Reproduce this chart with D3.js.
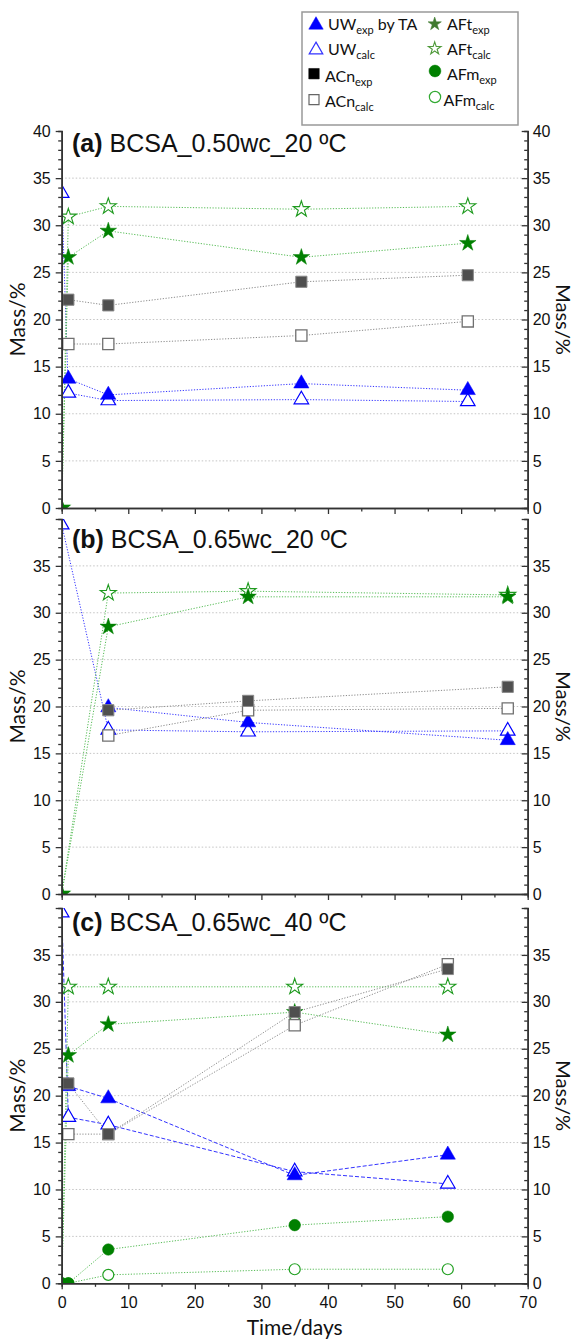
<!DOCTYPE html>
<html>
<head>
<meta charset="utf-8">
<style>
html, body { margin: 0; padding: 0; background: #fff; }
svg { display: block; }
.tick text { font-family: "Liberation Sans", Arial, sans-serif; font-size: 16px; fill: #111; }
.axis path, .axis line { stroke: #333; }
</style>
</head>
<body>
<div id="chart"></div>
<script src="https://cdn.jsdelivr.net/npm/d3@7"></script>
<script>
// panel (a) BCSA_0.50wc_20 ºC
var daysA    = [0, 1, 7, 36, 61];
var uwExpA   = [null, 13.7, 12.0, 13.2, 12.5];
var uwCalcA  = [33.4, 12.2, 11.4, 11.5, 11.3];
var acnExpA  = [null, 22.1, 21.5, 24.0, 24.7];
var acnCalcA = [null, 17.4, 17.4, 18.3, 19.8];
var aftExpA  = [0, 26.6, 29.4, 26.6, 28.1];
var aftCalcA = [0, 30.9, 32.0, 31.7, 32.0];

// panel (b) BCSA_0.65wc_20 ºC
var daysB    = [0, 7, 28, 67];
var uwExpB   = [null, 19.9, 18.3, 16.4];
var uwCalcB  = [39.4, 17.5, 17.3, 17.4];
var acnExpB  = [null, 19.6, 20.6, 22.1];
var acnCalcB = [null, 16.9, 19.6, 19.8];
var aftExpB  = [0, 28.5, 31.7, 31.7];
var aftCalcB = [0, 32.1, 32.3, 31.9];

// panel (c) BCSA_0.65wc_40 ºC
var daysC    = [0, 1, 7, 35, 58];
var uwExpC   = [null, 21.0, 19.7, 11.5, 13.7];
var uwCalcC  = [39.5, 17.7, 16.9, 11.9, 10.6];
var acnExpC  = [null, 21.3, 15.9, 28.9, 33.5];
var acnCalcC = [null, 15.9, 15.9, 27.5, 34.0];
var aftExpC  = [0, 24.3, 27.6, 28.9, 26.5];
var aftCalcC = [0, 31.6, 31.6, 31.6, 31.6];
var afmExpC  = [0, 0, 3.6, 6.2, 7.1];
var afmCalcC = [0, 0, 0.9, 1.5, 1.5];

var yMajorTicks = [0, 5, 10, 15, 20, 25, 30, 35, 40];
var xMajorTicks = [0, 10, 20, 30, 40, 50, 60, 70];
var gridValues  = [5, 10, 15, 20, 25, 30, 35];

var W = 580, H = 1339;
var svg = d3.select("#chart").append("svg").attr("width", W).attr("height", H);

var x = d3.scaleLinear().domain([0, 70]).range([61.7, 527.7]);

var styles = {
    uwCalc:  {sym: d3.symbolTriangle, size: 92, fill: "#fff", stroke: "#0000ff", sw: 1.2, line: "#3333ff"},
    uwExp:   {sym: d3.symbolTriangle, size: 100, fill: "#0000ff", stroke: "#0000ff", sw: 0.5, line: "#3333ff"},
    aftCalc: {sym: d3.symbolStar, size: 80, fill: "#fff", stroke: "#1f9a1f", sw: 1.1, line: "#55bb55"},
    aftExp:  {sym: d3.symbolStar, size: 85, fill: "#008000", stroke: "#008000", sw: 0.5, line: "#55bb55"},
    afmCalc: {sym: d3.symbolCircle, size: 95, fill: "#fff", stroke: "#22a022", sw: 1.2, line: "#55bb55"},
    afmExp:  {sym: d3.symbolCircle, size: 105, fill: "#008000", stroke: "#008000", sw: 0.5, line: "#55bb55"},
    acnCalc: {sym: d3.symbolSquare, size: 125, fill: "#fff", stroke: "#707070", sw: 1.3, line: "#8a8a8a"},
    acnExp:  {sym: d3.symbolSquare, size: 125, fill: "#4f4f4f", stroke: "#8a8a8a", sw: 1, line: "#8a8a8a"}
};
var drawOrder = ["uwCalc", "uwExp", "aftCalc", "aftExp", "afmCalc", "afmExp", "acnCalc", "acnExp"];

var panels = [
    {id: "a", label: "(a)", name: " BCSA_0.50wc_20 ºC", top: 131, bottom: 508, titleY: 152,
     days: daysA, showTop: true, dashUW: false,
     series: {uwCalc: uwCalcA, uwExp: uwExpA, aftCalc: aftCalcA, aftExp: aftExpA, acnCalc: acnCalcA, acnExp: acnExpA}},
    {id: "b", label: "(b)", name: " BCSA_0.65wc_20 ºC", top: 519, bottom: 894, titleY: 548,
     days: daysB, showTop: false, dashUW: false,
     series: {uwCalc: uwCalcB, uwExp: uwExpB, aftCalc: aftCalcB, aftExp: aftExpB, acnCalc: acnCalcB, acnExp: acnExpB}},
    {id: "c", label: "(c)", name: " BCSA_0.65wc_40 ºC", top: 908, bottom: 1283.3, titleY: 931,
     days: daysC, showTop: false, dashUW: true, xLabels: true,
     series: {uwCalc: uwCalcC, uwExp: uwExpC, aftCalc: aftCalcC, aftExp: aftExpC, afmCalc: afmCalcC, afmExp: afmExpC, acnCalc: acnCalcC, acnExp: acnExpC}}
];

panels.forEach(function(p) {
    var y = d3.scaleLinear().domain([0, 40]).range([p.bottom, p.top]);
    var g = svg.append("g");

    g.append("clipPath").attr("id", "clip" + p.id)
        .append("rect")
        .attr("x", x(0)).attr("y", p.top)
        .attr("width", x(70) - x(0)).attr("height", p.bottom - p.top);

    // grid
    g.append("g").selectAll("line").data(gridValues).join("line")
        .attr("x1", x(0)).attr("x2", x(70))
        .attr("y1", function(d) { return y(d); }).attr("y2", function(d) { return y(d); })
        .attr("stroke", "#c4c4c4").attr("stroke-width", 1).attr("stroke-dasharray", "1.5,2");

    var plot = g.append("g").attr("clip-path", "url(#clip" + p.id + ")");

    var line = d3.line()
        .defined(function(d) { return d[1] != null; })
        .x(function(d) { return x(d[0]); })
        .y(function(d) { return y(d[1]); });

    drawOrder.forEach(function(k) {
        var vals = p.series[k];
        if (!vals) return;
        var pts = p.days.map(function(t, i) { return [t, vals[i]]; });
        var s = styles[k];
        var dashed = p.dashUW && k.indexOf("uw") === 0;
        plot.append("path")
            .attr("d", line(pts.filter(function(d) { return d[1] != null; })))
            .attr("fill", "none")
            .attr("stroke", s.line)
            .attr("stroke-width", 1)
            .attr("stroke-dasharray", dashed ? "4,2" : "1.2,1.6");
    });

    drawOrder.forEach(function(k) {
        var vals = p.series[k];
        if (!vals) return;
        var s = styles[k];
        var pts = p.days.map(function(t, i) { return [t, vals[i]]; })
            .filter(function(d) { return d[1] != null; });
        plot.append("g").selectAll("path").data(pts).join("path")
            .attr("transform", function(d) { return "translate(" + x(d[0]) + "," + y(d[1]) + ")"; })
            .attr("d", d3.symbol().type(s.sym).size(s.size))
            .attr("fill", s.fill).attr("stroke", s.stroke).attr("stroke-width", s.sw);
    });

    // axes
    var yTicks = p.showTop ? yMajorTicks : yMajorTicks.slice(0, -1);
    var minorY = d3.range(0, 41, 1).filter(function(v) { return v % 5 !== 0; });
    var minorX = d3.range(5, 70, 10);

    var left = g.append("g").attr("class", "axis").attr("transform", "translate(" + x(0) + ",0)");
    left.call(d3.axisLeft(y).tickValues(yMajorTicks).tickSizeInner(6).tickSizeOuter(0).tickPadding(5)
        .tickFormat(function(d) { return yTicks.indexOf(d) >= 0 ? d : ""; }));
    left.append("g").call(d3.axisLeft(y).tickValues(minorY).tickSize(3.5).tickFormat(""));

    var right = g.append("g").attr("class", "axis").attr("transform", "translate(" + x(70) + ",0)");
    right.call(d3.axisRight(y).tickValues(yMajorTicks).tickSizeInner(-6).tickSizeOuter(0).tickPadding(5)
        .tickFormat(function(d) { return yTicks.indexOf(d) >= 0 ? d : ""; }));
    right.append("g").call(d3.axisRight(y).tickValues(minorY).tickSize(-3.5).tickFormat(""));

    var bottom = g.append("g").attr("class", "axis").attr("transform", "translate(0," + p.bottom + ")");
    bottom.call(d3.axisBottom(x).tickValues(xMajorTicks).tickSizeInner(6).tickSizeOuter(0).tickPadding(7)
        .tickFormat(p.xLabels ? d3.format("d") : ""));
    bottom.append("g").call(d3.axisBottom(x).tickValues(minorX).tickSize(3.5).tickFormat(""));

    g.selectAll(".axis path.domain").attr("stroke-width", 1.6);
    g.selectAll(".axis line").attr("stroke-width", 1.3);

    // title
    var title = g.append("text")
        .attr("x", 72).attr("y", p.titleY)
        .attr("font-family", "Liberation Sans, Arial, sans-serif")
        .attr("font-size", 25).attr("fill", "#111");
    title.append("tspan").attr("font-weight", "bold").text(p.label);
    title.append("tspan").text(p.name);

    var cy = (p.top + p.bottom) / 2;
    g.append("text")
        .attr("transform", "translate(25," + cy + ") rotate(-90)")
        .attr("text-anchor", "middle")
        .attr("font-family", "Lato, sans-serif").attr("font-size", 21).attr("fill", "#111")
        .text("Mass/%");
    g.append("text")
        .attr("transform", "translate(556," + cy + ") rotate(90)")
        .attr("text-anchor", "middle")
        .attr("font-family", "Lato, sans-serif").attr("font-size", 20).attr("fill", "#111")
        .text("Mass/%");
});

svg.append("text")
    .attr("x", x(35)).attr("y", 1335)
    .attr("text-anchor", "middle")
    .attr("font-family", "Lato, sans-serif").attr("font-size", 21).attr("fill", "#111")
    .text("Time/days");

// legend
var legendItems = [
    {sym: d3.symbolTriangle, size: 90, fill: "#0000ff", stroke: "#0000ff", sw: 0.5, x: 316, y: 25, tx: 328, ty: 29.5, main: "UW", sub: "exp", tail: " by TA"},
    {sym: d3.symbolTriangle, size: 80, fill: "#fff", stroke: "#3333ff", sw: 1.2, x: 316, y: 50, tx: 328, ty: 55, main: "UW", sub: "calc", tail: ""},
    {sym: d3.symbolSquare, size: 110, fill: "#000", stroke: "#000", sw: 0.5, x: 314, y: 73.7, tx: 325, ty: 81.5, main: "ACn", sub: "exp", tail: ""},
    {sym: d3.symbolSquare, size: 100, fill: "#fff", stroke: "#666", sw: 1.2, x: 314, y: 99.7, tx: 325, ty: 106.5, main: "ACn", sub: "calc", tail: ""},
    {sym: d3.symbolStar, size: 55, fill: "#3f7a2e", stroke: "#3f7a2e", sw: 0.5, x: 434.7, y: 24, tx: 447, ty: 29.5, main: "AFt", sub: "exp", tail: ""},
    {sym: d3.symbolStar, size: 50, fill: "#fff", stroke: "#4f9a3a", sw: 1.1, x: 434.7, y: 48.5, tx: 447, ty: 55, main: "AFt", sub: "calc", tail: ""},
    {sym: d3.symbolCircle, size: 110, fill: "#008000", stroke: "#008000", sw: 0.5, x: 435, y: 71, tx: 447, ty: 80, main: "AFm", sub: "exp", tail: ""},
    {sym: d3.symbolCircle, size: 100, fill: "#fff", stroke: "#33aa33", sw: 1.2, x: 435, y: 97, tx: 443.5, ty: 106, main: "AFm", sub: "calc", tail: ""}
];

var legend = svg.append("g");
legend.append("rect")
    .attr("x", 302).attr("y", 12).attr("width", 216).attr("height", 113)
    .attr("fill", "#fff").attr("stroke", "#999").attr("stroke-width", 1.5);

legendItems.forEach(function(d) {
    legend.append("path")
        .attr("transform", "translate(" + d.x + "," + d.y + ")")
        .attr("d", d3.symbol().type(d.sym).size(d.size))
        .attr("fill", d.fill).attr("stroke", d.stroke).attr("stroke-width", d.sw);
    var t = legend.append("text")
        .attr("x", d.tx).attr("y", d.ty)
        .attr("font-family", "Lato, sans-serif").attr("font-size", 16).attr("fill", "#111");
    t.append("tspan").text(d.main);
    t.append("tspan").attr("font-size", 11).attr("dy", 4).text(d.sub);
    if (d.tail) t.append("tspan").attr("dy", -4).text(d.tail);
});
</script>
</body>
</html>
